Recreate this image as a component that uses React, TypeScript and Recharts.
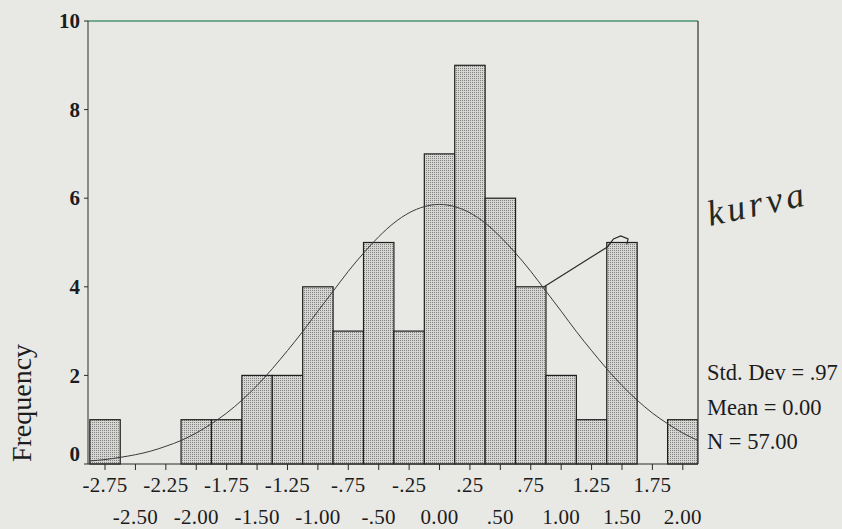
import React from "react";
import { Bar, ComposedChart, Line, ReferenceLine, XAxis, YAxis } from "recharts";

// histogram bins (centre of each 0.25 wide class) and their counts
const binCenters = [
  -2.75, -2.5, -2.25, -2.0, -1.75, -1.5, -1.25, -1.0, -0.75, -0.5, -0.25, 0.0,
  0.25, 0.5, 0.75, 1.0, 1.25, 1.5, 1.75, 2.0,
];
const frequencies = [1, 0, 0, 1, 1, 2, 2, 4, 3, 5, 3, 7, 9, 6, 4, 2, 1, 5, 0, 1];
const xTickLabels = [
  "-2.75", "-2.50", "-2.25", "-2.00", "-1.75", "-1.50", "-1.25", "-1.00", "-.75", "-.50",
  "-.25", "0.00", ".25", ".50", ".75", "1.00", "1.25", "1.50", "1.75", "2.00",
];
const yTicks = [0, 2, 4, 6, 8, 10];

// fitted normal curve
const curveX = [
  -2.875, -2.75, -2.625, -2.5, -2.375, -2.25, -2.125, -2.0, -1.875, -1.75, -1.625,
  -1.5, -1.375, -1.25, -1.125, -1.0, -0.875, -0.75, -0.625, -0.5, -0.375, -0.25,
  -0.125, 0.0, 0.125, 0.25, 0.375, 0.5, 0.625, 0.75, 0.875, 1.0, 1.125, 1.25,
  1.375, 1.5, 1.625, 1.75, 1.875, 2.0, 2.125,
];
const curveY = [
  0.07, 0.1, 0.15, 0.21, 0.29, 0.4, 0.53, 0.7, 0.91, 1.15, 1.44, 1.77, 2.15, 2.56,
  2.99, 3.45, 3.9, 4.35, 4.76, 5.13, 5.44, 5.67, 5.81, 5.86, 5.81, 5.67, 5.44,
  5.13, 4.76, 4.35, 3.9, 3.45, 2.99, 2.56, 2.15, 1.77, 1.44, 1.15, 0.91, 0.7, 0.53,
];

// pen mark drawn by hand on the print
const penX = [0.86, 1.38, 1.43, 1.49, 1.55, 1.54];
const penY = [4.0, 4.9, 5.08, 5.15, 5.08, 4.96];

const statLines = ["Std. Dev = .97", "Mean = 0.00", "N = 57.00"];

const binWidth = 0.25;
const xDomain = [-2.89, 2.125];
const chartW = 842;
const chartH = 529;
const margin = { top: 21, right: 144, bottom: 0, left: 28 };
const yAxisW = 60;
const plotW = chartW - margin.left - margin.right - yAxisW;
const binPx = (plotW * binWidth) / (xDomain[1] - xDomain[0]);

const serif = "'Liberation Serif', 'Times New Roman', serif";
const ink = "#1c1c1c";

const bars = binCenters.map((x, i) => ({ x, freq: frequencies[i] }));
const curve = curveX.map((x, i) => ({ x, fit: curveY[i] }));
const pen = penX.map((x, i) => ({ x, pen: penY[i] }));

// bars on a number axis come out as slivers, so widen them to the class width
function HistBar(props: any) {
  const { x, y, width, height } = props;
  if (!height) return null;
  const cx = x + width / 2;
  return (
    <rect
      x={cx - binPx / 2}
      y={y}
      width={binPx}
      height={height}
      fill="url(#stipple)"
      stroke="#1e1e1e"
      strokeWidth={1.2}
    />
  );
}

function XTick({ x, y, payload }: any) {
  const i = binCenters.indexOf(payload.value);
  const row = i % 2;
  return (
    <text
      x={x}
      y={y + (row ? 52 : 20)}
      textAnchor="middle"
      fontFamily={serif}
      fontSize={21}
      letterSpacing={0.3}
      fill={ink}
    >
      {xTickLabels[i]}
    </text>
  );
}

function YTick({ x, y, payload }: any) {
  const lift = payload.value === 0 ? -10 : 0;
  return (
    <text
      x={x}
      y={y + lift}
      dy="0.34em"
      textAnchor="end"
      fontFamily={serif}
      fontSize={21}
      fontWeight="bold"
      fill={ink}
    >
      {payload.value}
    </text>
  );
}

export default function App() {
  return (
    <div
      style={{
        position: "fixed",
        left: 0,
        top: 0,
        width: chartW,
        height: chartH,
        background: "#e8e8e5",
        overflow: "hidden",
      }}
    >
      <ComposedChart width={chartW} height={chartH} data={bars} margin={margin}>
        <defs>
          <pattern id="stipple" width="2" height="2" patternUnits="userSpaceOnUse">
            <rect width="2" height="2" fill="#d6d6d3" />
            <rect x="0" y="0" width="1" height="1" fill="#808080" />
          </pattern>
        </defs>
        <XAxis
          dataKey="x"
          type="number"
          domain={xDomain}
          ticks={binCenters}
          interval={0}
          allowDataOverflow
          height={65}
          tickSize={6}
          tickMargin={2}
          stroke="#2a2a2a"
          tick={<XTick />}
        />
        <YAxis
          type="number"
          domain={[0, 10]}
          ticks={yTicks}
          interval={0}
          width={yAxisW}
          tickSize={4}
          tickMargin={4}
          stroke="#2a2a2a"
          tick={<YTick />}
        />
        <Bar dataKey="freq" shape={<HistBar />} isAnimationActive={false} />
        <Line
          data={curve}
          dataKey="fit"
          type="monotone"
          dot={false}
          stroke="#3a3a3a"
          strokeWidth={1}
          isAnimationActive={false}
        />
        <Line
          data={pen}
          dataKey="pen"
          type="linear"
          dot={false}
          stroke="#2b2b2b"
          strokeWidth={1.2}
          isAnimationActive={false}
        />
        <ReferenceLine y={10} stroke="#4c9670" strokeWidth={1.5} />
        <ReferenceLine x={2.125} stroke="#333" strokeWidth={1.2} />
      </ComposedChart>
      <svg
        width={chartW}
        height={chartH}
        style={{ position: "absolute", left: 0, top: 0, pointerEvents: "none" }}
      >
        <text
          x={31}
          y={403}
          transform="rotate(-90 31 403)"
          textAnchor="middle"
          fontFamily={serif}
          fontSize={28}
          fill={ink}
        >
          Frequency
        </text>
        {statLines.map((s, i) => (
          <text
            key={s}
            x={707}
            y={380 + i * 34.5}
            fontFamily={serif}
            fontSize={22.5}
            fill={ink}
          >
            {s}
          </text>
        ))}
        <text
          x={710}
          y={226}
          transform="rotate(-12 710 226)"
          fontFamily={serif}
          fontStyle="italic"
          fontSize={36}
          letterSpacing={4}
          fill="#1f2a22"
        >
          kurva
        </text>
      </svg>
    </div>
  );
}
